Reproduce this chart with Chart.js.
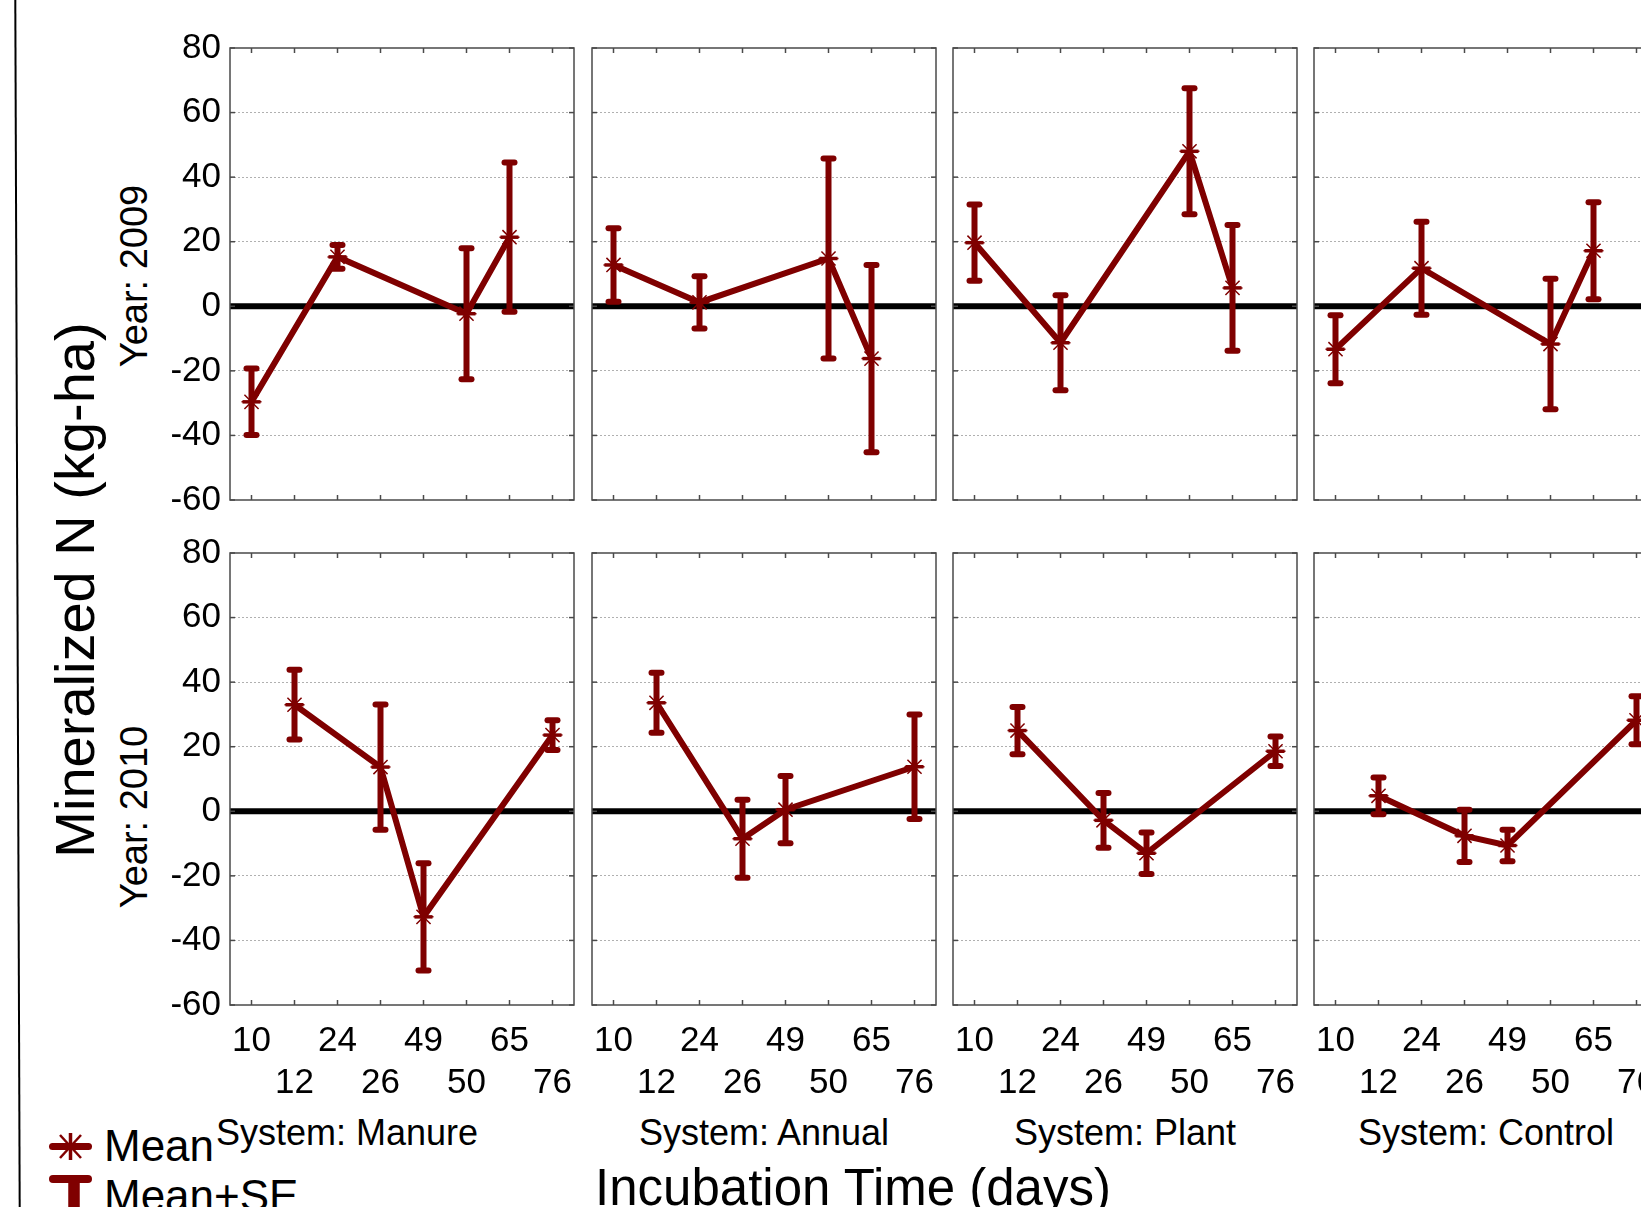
<!DOCTYPE html>
<html>
<head>
<meta charset="utf-8">
<title>Mineralized N by incubation time</title>
<script src="https://cdn.jsdelivr.net/npm/chart.js@4.4.1/dist/chart.umd.min.js"></script>
<style>
  html, body { margin: 0; padding: 0; background: #fff; }
  body {
    width: 1641px; height: 1207px; position: relative; overflow: hidden;
    font-family: "Liberation Sans", Arial, sans-serif; color: #000;
  }
  canvas { position: absolute; }
  .lbl { position: absolute; line-height: 1; white-space: nowrap; transform: translate(-50%, -50%); }
  .rot { transform: translate(-50%, -50%) rotate(-90deg); }
  .lft { transform: translate(0, -50%); }
</style>
</head>
<body>

<svg width="1641" height="1207" style="position:absolute;left:0;top:0">
  <line x1="15.3" y1="0" x2="19.7" y2="1207" stroke="#000" stroke-width="2"/>
  <g stroke="#800000" fill="none">
    <line x1="52.5" y1="1146.5" x2="88.5" y2="1146.5" stroke-width="7" stroke-linecap="round"/>
    <line x1="70.5" y1="1133" x2="70.5" y2="1160" stroke-width="3.5"/>
    <line x1="60" y1="1135" x2="81" y2="1158" stroke-width="2.5"/>
    <line x1="81" y1="1135" x2="60" y2="1158" stroke-width="2.5"/>
    <line x1="53" y1="1179" x2="88" y2="1179" stroke-width="8" stroke-linecap="round"/>
    <line x1="74" y1="1179" x2="74" y2="1212" stroke-width="11.5"/>
  </g>
</svg>

<div class="lbl rot" style="left:75px;top:590px;font-size:56px">Mineralized N (kg-ha)</div>
<div class="lbl rot" style="left:134px;top:276px;font-size:38px">Year: 2009</div>
<div class="lbl rot" style="left:134px;top:817px;font-size:38px">Year: 2010</div>

<div class="lbl" style="left:347px;top:1133px;font-size:36px">System: Manure</div>
<div class="lbl" style="left:764px;top:1133px;font-size:36px">System: Annual</div>
<div class="lbl" style="left:1125px;top:1133px;font-size:36px">System: Plant</div>
<div class="lbl" style="left:1486px;top:1133px;font-size:36px">System: Control</div>

<div class="lbl" style="left:853px;top:1187px;font-size:51px">Incubation Time (days)</div>

<div class="lbl lft" style="left:104px;top:1146px;font-size:44px">Mean</div>
<div class="lbl lft" style="left:104px;top:1196px;font-size:44px">Mean+SE</div>

<script>
const days = ['10', '12', '24', '26', '49', '50', '65', '76'];
const systems = ['Manure', 'Annual', 'Plant', 'Control'];
const years = ['2009', '2010'];
const yTicks = [80, 60, 40, 20, 0, -20, -40, -60];

// 2009, means and SE per incubation day (null = not sampled)
const manure2009 = [-29.6, null, 15.3, null, null, -2.3, 21.4, null];
const manure2009SE = [10.3, null, 3.7, null, null, 20.3, 23.1, null];
const annual2009 = [12.8, null, 1.2, null, null, 14.8, -16.2, null];
const annual2009SE = [11.4, null, 8.1, null, null, 31.0, 29.0, null];
const plant2009 = [19.7, null, -11.3, null, null, 48.0, 5.7, null];
const plant2009SE = [11.8, null, 14.7, null, null, 19.5, 19.5, null];
const control2009 = [-13.3, null, 11.8, null, null, -11.7, 17.2, null];
const control2009SE = [10.5, null, 14.4, null, null, 20.2, 15.0, null];

// 2010
const manure2010 = [null, 33.0, null, 13.7, -32.7, null, null, 23.6];
const manure2010SE = [null, 10.8, null, 19.4, 16.6, null, null, 4.6];
const annual2010 = [null, 33.6, null, -8.5, 0.5, null, null, 13.8];
const annual2010SE = [null, 9.3, null, 12.1, 10.4, null, null, 16.2];
const plant2010 = [null, 25.0, null, -2.8, -13.0, null, null, 18.6];
const plant2010SE = [null, 7.3, null, 8.5, 6.4, null, null, 4.6];
const control2010 = [null, 4.8, null, -7.6, -10.6, null, null, 28.2];
const control2010SE = [null, 5.7, null, 8.1, 4.9, null, null, 7.4];

const panels = [
  {row: 0, col: 0, mean: manure2009, se: manure2009SE},
  {row: 0, col: 1, mean: annual2009, se: annual2009SE},
  {row: 0, col: 2, mean: plant2009, se: plant2009SE},
  {row: 0, col: 3, mean: control2009, se: control2009SE},
  {row: 1, col: 0, mean: manure2010, se: manure2010SE},
  {row: 1, col: 1, mean: annual2010, se: annual2010SE},
  {row: 1, col: 2, mean: plant2010, se: plant2010SE},
  {row: 1, col: 3, mean: control2010, se: control2010SE}
];

// panel placement
const PL = [230, 592, 953, 1314], PT = [48, 553], PW = 344, PH = 452;
const YW = 80, XH = 100, PADT = 24, PADR = 8;
const RED = '#7f0000';

Chart.defaults.font.family = '"Liberation Sans", Arial, sans-serif';
Chart.defaults.color = '#000';

function seg(ctx, x1, y1, x2, y2) {
  ctx.beginPath();
  ctx.moveTo(x1, y1);
  ctx.lineTo(x2, y2);
  ctx.stroke();
}

function noPad(s) {
  s.paddingTop = 0;
  s.paddingBottom = 0;
  s.paddingLeft = 0;
  s.paddingRight = 0;
}

var framePlugin = {
  id: 'frame',
  beforeDatasetsDraw: function (chart) {
    // thick zero reference line
    var ctx = chart.ctx, a = chart.chartArea;
    var y0 = chart.scales.y.getPixelForValue(0);
    ctx.save();
    ctx.strokeStyle = '#000';
    ctx.lineWidth = 6;
    seg(ctx, a.left, y0, a.right, y0);
    ctx.restore();
  },
  afterDatasetsDraw: function (chart) {
    // error bars: mean +/- SE
    var ctx = chart.ctx, y = chart.scales.y;
    var ds = chart.data.datasets[0];
    var meta = chart.getDatasetMeta(0);
    ctx.save();
    ctx.strokeStyle = RED;
    meta.data.forEach(function (pt, i) {
      var m = ds.data[i];
      if (m == null) return;
      var s = ds.se[i];
      var yt = y.getPixelForValue(m + s), yb = y.getPixelForValue(m - s), ym = y.getPixelForValue(m);
      ctx.lineCap = 'butt';
      ctx.lineWidth = 6;
      seg(ctx, pt.x, yt, pt.x, yb);
      ctx.lineCap = 'round';
      seg(ctx, pt.x - 5, yt, pt.x + 5, yt);
      seg(ctx, pt.x - 5, yb, pt.x + 5, yb);
      ctx.lineCap = 'butt';
      ctx.lineWidth = 3.5;
      seg(ctx, pt.x - 9, ym, pt.x + 9, ym);
    });
    ctx.restore();
  },
  afterDraw: function (chart) {
    var ctx = chart.ctx, a = chart.chartArea;
    var x = chart.scales.x, y = chart.scales.y;
    ctx.save();
    ctx.strokeStyle = '#4a4a4a';
    ctx.lineWidth = 1.5;
    ctx.strokeRect(a.left, a.top, a.right - a.left, a.bottom - a.top);
    // inward ticks
    x.ticks.forEach(function (t, i) {
      var px = x.getPixelForTick(i);
      seg(ctx, px, a.top, px, a.top + 5);
      seg(ctx, px, a.bottom, px, a.bottom - 5);
    });
    y.ticks.forEach(function (t) {
      var py = y.getPixelForValue(t.value);
      seg(ctx, a.left, py, a.left + 5, py);
      seg(ctx, a.right, py, a.right - 5, py);
    });
    ctx.restore();
  }
};

panels.forEach(function (p) {
  var c = document.createElement('canvas');
  var w = YW + PW + PADR, h = PADT + PH + XH;
  c.width = w;
  c.height = h;
  c.style.width = w + 'px';
  c.style.height = h + 'px';
  c.style.left = (PL[p.col] - YW) + 'px';
  c.style.top = (PT[p.row] - PADT) + 'px';
  document.body.appendChild(c);

  new Chart(c, {
    type: 'line',
    data: {
      labels: days,
      datasets: [{
        label: systems[p.col] + ' ' + years[p.row],
        data: p.mean,
        se: p.se,
        borderColor: RED,
        borderWidth: 6,
        spanGaps: true,
        tension: 0,
        pointStyle: 'star',
        pointRadius: 10,
        pointBorderWidth: 1.5,
        pointBorderColor: RED,
        pointBackgroundColor: RED
      }]
    },
    options: {
      responsive: false,
      animation: false,
      devicePixelRatio: 1,
      layout: { autoPadding: false, padding: { top: PADT, right: PADR, left: 0, bottom: 0 } },
      plugins: { legend: { display: false }, tooltip: { enabled: false } },
      scales: {
        x: {
          type: 'category',
          offset: true,
          grid: { display: false },
          border: { display: false },
          ticks: {
            display: p.row === 1,
            autoSkip: false,
            maxRotation: 0,
            minRotation: 0,
            padding: 7,
            font: { size: 35 },
            color: '#000',
            callback: function (v, i) {
              var l = this.getLabelForValue(v);
              return i % 2 ? ['', l] : l;
            }
          },
          afterFit: function (s) { s.height = XH; noPad(s); }
        },
        y: {
          min: -60,
          max: 80,
          afterBuildTicks: function (s) {
            s.ticks = yTicks.map(function (v) { return { value: v }; });
          },
          grid: {
            drawTicks: false,
            lineWidth: 1,
            color: function (ctx) {
              var v = ctx.tick && ctx.tick.value;
              return (v === 0 || v === 80 || v === -60) ? 'rgba(0,0,0,0)' : '#b0b0b0';
            }
          },
          border: { display: false, dash: [2, 2] },
          ticks: {
            display: p.col === 0,
            padding: 9,
            font: { size: 35 },
            color: '#000',
            callback: function (v) { return String(v); }
          },
          afterFit: function (s) { s.width = YW; noPad(s); }
        }
      }
    },
    plugins: [framePlugin]
  });
});
</script>
</body>
</html>
